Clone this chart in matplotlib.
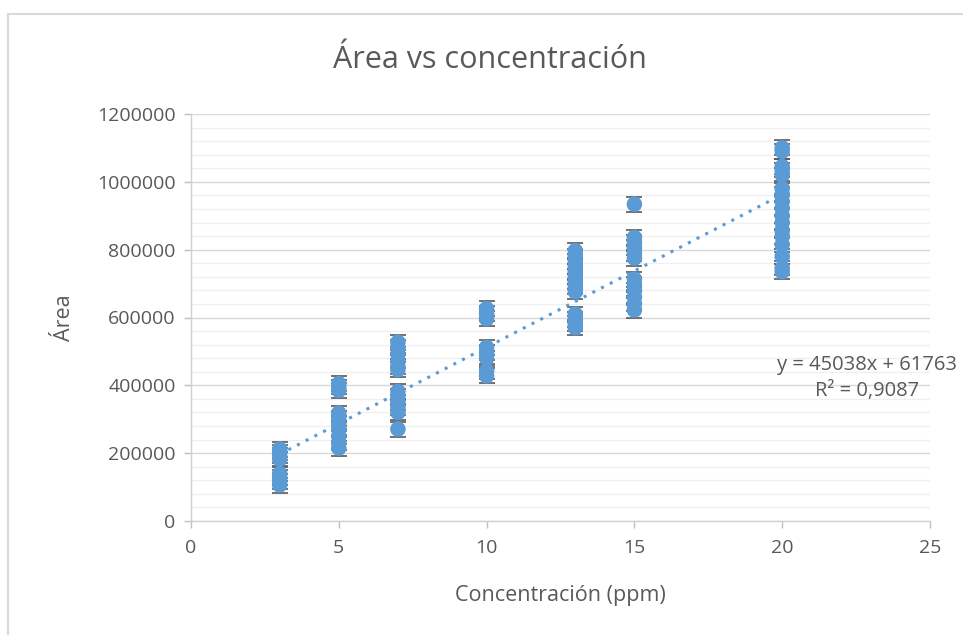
import matplotlib
matplotlib.use("Agg")
import matplotlib.pyplot as plt
from matplotlib.patches import Rectangle
import numpy as np

plt.rcParams['font.family'] = ['Open Sans', 'DejaVu Sans']

# Measured peak areas per standard concentration (ppm)
conc_3 = [212000, 203000, 192000, 182000, 140000, 128000, 117000, 106000]
conc_5 = [405000, 395000, 385000, 318000, 302000, 287000, 270000, 250000, 232000, 215000]
conc_7 = [527000, 512000, 492000, 472000, 456000, 446000, 382000, 366000, 350000, 334000, 320000, 271000]
conc_10 = [626000, 611000, 596000, 512000, 496000, 480000, 442000, 428000]
conc_13 = [797000, 781000, 765000, 750000, 735000, 720000, 705000, 690000, 676000,
           610000, 595000, 582000, 570000]
conc_15 = [934000, 836000, 821000, 806000, 790000, 775000, 713000, 696000, 680000, 660000, 640000, 622000]
conc_20 = [1100000, 1090000, 1045000, 1035000, 1020000, 980000, 962000, 942000, 922000,
           900000, 880000, 856000, 840000, 815000, 780000, 746000, 735000]

concentrations = [3, 5, 7, 10, 13, 15, 20]
areas = [conc_3, conc_5, conc_7, conc_10, conc_13, conc_15, conc_20]
error_size = 22000

slope = 45038
intercept = 61763
r_squared = "0,9087"

x = np.concatenate([[c] * len(a) for c, a in zip(concentrations, areas)])
y = np.concatenate(areas)

fig = plt.figure(figsize=(9.63, 6.35), dpi=100)
fig.patch.set_facecolor('white')
ax = fig.add_axes([191 / 963, 1 - 521 / 635, (930 - 191) / 963, (521 - 114) / 635])

# Chart border
fig.patches.append(Rectangle((8 / 963, -0.05), 1.1, 1 - 14 / 635 + 0.05,
                             transform=fig.transFigure, fill=False,
                             edgecolor='#d9d9d9', linewidth=1.5))

grey = '#595959'
ax.set_xlim(0, 25)
ax.set_ylim(0, 1200000)
ax.set_xticks([0, 5, 10, 15, 20, 25])
ax.set_yticks(np.arange(0, 1200001, 200000))
ax.set_yticks(np.arange(0, 1200001, 40000), minor=True)
ax.yaxis.grid(True, which='major', color='#d9d9d9', linewidth=1)
ax.yaxis.grid(True, which='minor', color='#efefef', linewidth=0.9)
ax.set_axisbelow(True)
for side in ['top', 'right']:
    ax.spines[side].set_visible(False)
for side in ['left', 'bottom']:
    ax.spines[side].set_color('#d0d0d0')
    ax.spines[side].set_linewidth(1)
ax.tick_params(axis='both', which='major', colors='#bfbfbf', length=5, width=1,
               labelcolor=grey, labelsize=14, pad=6)
ax.tick_params(axis='x', which='major', pad=8)
ax.tick_params(axis='y', which='minor', length=0)
ax.set_yticklabels([f"{int(v)}" for v in ax.get_yticks()])

ax.errorbar(x, y, yerr=error_size, fmt='none', ecolor='#595959', elinewidth=1,
            capsize=6, capthick=1.2, zorder=2)
ax.scatter(x, y, s=125, color='#5b9bd5', edgecolors='none', zorder=3)

xt = np.array([3, 20])
ax.plot(xt, slope * xt + intercept, linestyle=(0, (1, 2.2)), color='#5b9bd5',
        linewidth=2.2, zorder=4)

fig.text(867 / 963, 1 - 378 / 635, f"y = {slope}x + {intercept}\nR² = {r_squared}",
         ha='center', va='center', fontsize=14.5, color=grey, linespacing=1.4)

fig.text(490 / 963, 1 - 60 / 635, "Área vs concentración", ha='center', va='center',
         fontsize=22, color=grey)
ax.set_xlabel("Concentración (ppm)", fontsize=15.5, color=grey, labelpad=20)
ax.set_ylabel("Área", fontsize=15.5, color=grey, labelpad=16)

fig.savefig("out.png", dpi=100, facecolor='white')
